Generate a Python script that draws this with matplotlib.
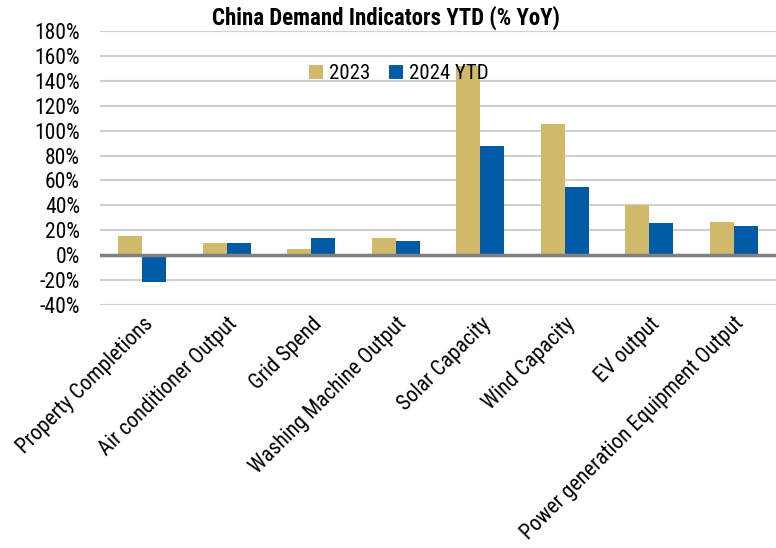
import numpy as np
import matplotlib.pyplot as plt
from matplotlib.ticker import FuncFormatter

plt.rcParams['font.family'] = ['Roboto Condensed', 'Liberation Sans Narrow', 'Roboto', 'DejaVu Sans']

categories = ['Property Completions', 'Air conditioner Output', 'Grid Spend',
              'Washing Machine Output', 'Solar Capacity', 'Wind Capacity',
              'EV output', 'Power generation Equipment Output']
y2023 = [15.5, 10.0, 4.8, 14.2, 152.0, 105.2, 40.2, 27.0]
y2024 = [-21.5, 9.7, 14.2, 11.2, 87.5, 54.4, 26.2, 23.6]
yticks = list(range(-40, 181, 20))

gold = '#D1B96C'
blue = '#005BA6'

fig = plt.figure(figsize=(7.76, 5.48), dpi=100)
ax = fig.add_axes([0.129, 0.4434, 0.871, 0.5]) 

x = np.arange(len(categories))
w = 0.285
ax.bar(x - w / 2, y2023, w, color=gold, label='2023', zorder=3)
ax.bar(x + w / 2, y2024, w, color=blue, label='2024 YTD', zorder=3)

ax.set_xlim(-0.5, len(categories) - 0.5)
ax.set_ylim(-40, 180)
ax.set_yticks(yticks)
ax.yaxis.set_major_formatter(FuncFormatter(lambda v, p: f'{v:.0f}%'))
ax.grid(axis='y', color='#D0D0D0', linewidth=1.5, zorder=0)
ax.axhline(0, color='#808080', linewidth=2.5, zorder=4)
for s in ax.spines.values():
    s.set_visible(False)
ax.tick_params(length=0, labelsize=15.5)
ax.tick_params(axis='y', pad=14.5)
ax.tick_params(axis='x', pad=6)
ax.set_xticks(x)
ax.set_xticklabels(categories, rotation=45, ha='right', rotation_mode='anchor')

ax.legend(loc='center', bbox_to_anchor=(0.442, 0.845), ncol=2, frameon=False,
          fontsize=15, handlelength=0.65, handleheight=0.65, handletextpad=0.3,
          columnspacing=0.9)

fig.text(0.497, 0.967, 'China Demand Indicators YTD (% YoY)', ha='center', va='center',
         fontsize=16.5, fontweight='bold')

fig.savefig('out.png', dpi=100)
